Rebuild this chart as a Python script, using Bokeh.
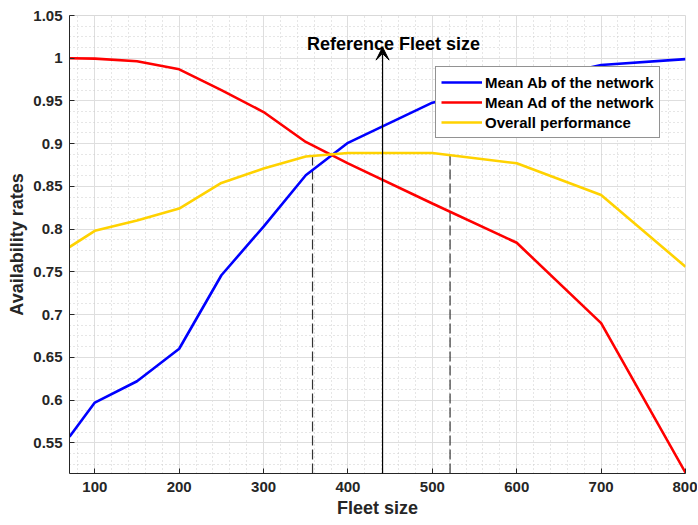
from bokeh.plotting import figure
from bokeh.models import (Legend, LegendItem, Arrow, VeeHead, Label, FixedTicker,
                          ColumnDataSource, Range1d)
from bokeh.embed import file_html
from bokeh.resources import INLINE

# ---------------- data ----------------
fleet_size = [70, 100, 150, 200, 250, 300, 350, 400, 500, 600, 700, 800]
mean_ab = [0.557, 0.597, 0.622, 0.660, 0.746, 0.803, 0.863, 0.901, 0.948, 0.970, 0.992, 0.999]
mean_ad = [1.000, 0.9995, 0.9965, 0.987, 0.9626, 0.937, 0.902, 0.877, 0.830, 0.784, 0.690, 0.515]
overall = [0.779, 0.798, 0.810, 0.824, 0.854, 0.871, 0.885, 0.889, 0.889, 0.877, 0.840, 0.756]

ref_fleet = 441
ref_arrow_top = 1.013
ref_text = "Reference Fleet size"
ref_text_x = 454
ref_text_y = 1.017
bound_fleet = [358, 521]
bound_top = [0.887, 0.887]

x_ticks = [100, 200, 300, 400, 500, 600, 700, 800]
x_tick_labels = ["100", "200", "300", "400", "500", "600", "700", "800"]
y_ticks = [0.55, 0.6, 0.65, 0.7, 0.75, 0.8, 0.85, 0.9, 0.95, 1.0, 1.05]
y_tick_labels = ["0.55", "0.6", "0.65", "0.7", "0.75", "0.8", "0.85", "0.9", "0.95", "1", "1.05"]
x_lim = (70, 800)
y_lim = (0.514, 1.05)

series_names = ["Mean Ab of the network", "Mean Ad of the network", "Overall performance"]
series_colors = ["#0000ff", "#ff0000", "#ffd200"]

# ---------------- figure ----------------
FONT = "Liberation Sans"
TXT = "#262626"

p = figure(width=697, height=524, output_backend="svg", toolbar_location=None,
           x_range=Range1d(*x_lim), y_range=Range1d(*y_lim),
           min_border_left=69, min_border_right=12, min_border_top=15, min_border_bottom=51)
p.background_fill_color = "white"
p.border_fill_color = "white"
p.outline_line_color = "#d9d9d9"

x_minor = [v for v in range(80, 801, 20) if v % 100 != 0]
y_minor = [round(0.5 + 0.0125 * i, 4) for i in range(0, 45)]
y_minor = [v for v in y_minor if y_lim[0] <= v <= y_lim[1]]
p.xaxis.ticker = FixedTicker(ticks=x_ticks, minor_ticks=x_minor)
p.yaxis.ticker = FixedTicker(ticks=y_ticks, minor_ticks=y_minor)
p.xaxis.major_label_overrides = {t: l for t, l in zip(x_ticks, x_tick_labels)}
p.yaxis.major_label_overrides = {t: l for t, l in zip(y_ticks, y_tick_labels)}

for ax in (p.xaxis, p.yaxis):
    ax.axis_line_color = TXT
    ax.axis_line_width = 1
    ax.major_tick_in = 5
    ax.major_tick_out = 0
    ax.major_tick_line_color = TXT
    ax.minor_tick_in = 0
    ax.minor_tick_out = 0
    ax.major_label_text_font = FONT
    ax.major_label_text_font_style = "bold"
    ax.major_label_text_font_size = "15px"
    ax.major_label_text_color = TXT
    ax.axis_label_text_font = FONT
    ax.axis_label_text_font_style = "bold"
    ax.axis_label_text_font_size = "18px"
    ax.axis_label_text_color = TXT

p.xaxis.axis_label = "Fleet size"
p.yaxis.axis_label = "Availability rates"
p.xaxis.major_label_standoff = 8
p.yaxis.major_label_standoff = 7
p.xaxis.axis_label_standoff = 3
p.yaxis.axis_label_standoff = 3

for g in (p.xgrid, p.ygrid):
    g.grid_line_color = "#dedede"
    g.grid_line_width = 1
    g.minor_grid_line_color = "#cccccc"
    g.minor_grid_line_dash = "1 3"
    g.minor_grid_line_width = 1

# dashed bounds
for xb, yt in zip(bound_fleet, bound_top):
    p.line([xb, xb], [y_lim[0], yt], line_color="#333333", line_width=1.2, line_dash="10 4")

renderers = []
for ys, c in zip([mean_ab, mean_ad, overall], series_colors):
    src = ColumnDataSource(dict(x=fleet_size, y=ys))
    r = p.line("x", "y", source=src, line_color=c, line_width=2.6)
    renderers.append(r)

# reference arrow
p.add_layout(Arrow(end=VeeHead(size=13, fill_color="black", line_color="black", line_width=1),
                   x_start=ref_fleet, y_start=y_lim[0], x_end=ref_fleet, y_end=ref_arrow_top,
                   line_color="black", line_width=1.2))
p.add_layout(Label(x=ref_text_x, y=ref_text_y, text=ref_text, text_align="center",
                   text_baseline="alphabetic", text_font=FONT, text_font_style="bold",
                   text_font_size="18px", text_color="black"))

legend = Legend(items=[LegendItem(label=n, renderers=[r]) for n, r in zip(series_names, renderers)],
                location=(366, 335))
legend.label_text_font = FONT
legend.label_text_font_style = "bold"
legend.label_text_font_size = "15px"
legend.label_text_color = "black"
legend.border_line_color = TXT
legend.border_line_width = 1
legend.background_fill_color = "white"
legend.background_fill_alpha = 1
legend.padding = 5
legend.spacing = 0
legend.margin = 0
legend.label_height = 20
legend.glyph_height = 20
legend.glyph_width = 41
legend.label_standoff = 3
p.add_layout(legend)

open("out.html", "w").write(file_html(p, INLINE))
